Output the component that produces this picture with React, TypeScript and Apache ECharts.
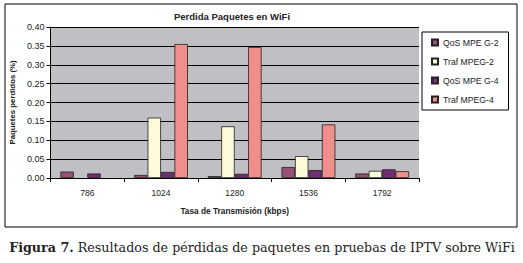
import React, { useEffect, useRef } from "react";
import * as echarts from "echarts";

const categories = ["786", "1024", "1280", "1536", "1792"];
const qosMpeg2 = [0.017, 0.008, 0.005, 0.029, 0.012];
const trafMpeg2 = [null, 0.16, 0.137, 0.058, 0.019];
const qosMpeg4 = [0.012, 0.016, 0.011, 0.021, 0.023];
const trafMpeg4 = [null, 0.355, 0.347, 0.142, 0.018];
const seriesNames = ["QoS MPE G-2", "Traf MPEG-2", "QoS MPE G-4", "Traf MPEG-4"];
const colors = ["#955177", "#FCFAD8", "#722E73", "#F08E8C"];

export default function App() {
  const ref = useRef<HTMLDivElement>(null);
  useEffect(() => {
    if (!ref.current) return;
    const chart = echarts.init(ref.current, undefined, { renderer: "svg" });
    const datasets = [qosMpeg2, trafMpeg2, qosMpeg4, trafMpeg4];
    chart.setOption({
      animation: false,
      backgroundColor: "#ffffff",
      textStyle: { fontFamily: "Liberation Sans" },
      grid: {
        left: 44,
        right: 104,
        top: 27,
        bottom: 85,
        show: true,
        backgroundColor: "#C0C0C4",
        borderWidth: 0,
      },
      legend: {
        orient: "vertical",
        left: 422,
        top: 32,
        width: 87,
        backgroundColor: "#ffffff",
        borderColor: "#000000",
        borderWidth: 1,
        padding: [6, 10, 6, 9],
        itemGap: 10,
        itemWidth: 6,
        itemHeight: 6,
        icon: "rect",
        textStyle: { fontSize: 8.7, color: "#222", fontFamily: "Liberation Sans" },
        data: seriesNames,
      },
      xAxis: {
        type: "category",
        data: categories,
        axisLine: { lineStyle: { color: "#000", width: 1 } },
        axisTick: { show: true, length: 4, lineStyle: { color: "#000" } },
        axisLabel: { fontSize: 8.5, color: "#222", margin: 10 },
        name: "Tasa de Transmisión (kbps)",
        nameLocation: "middle",
        nameGap: 29,
        nameTextStyle: { fontSize: 8.3, fontWeight: "bold", color: "#222" },
      },
      yAxis: {
        type: "value",
        min: 0,
        max: 0.4,
        interval: 0.05,
        axisLine: { show: true, lineStyle: { color: "#000", width: 1 } },
        axisTick: { show: true, length: 4, lineStyle: { color: "#000" } },
        axisLabel: {
          fontSize: 9,
          color: "#222",
          margin: 6,
          formatter: (v: number) => v.toFixed(2),
        },
        splitLine: { show: true, lineStyle: { color: "#000", width: 1 } },
        name: "Paquetes perdidos (%)",
        nameLocation: "middle",
        nameGap: 30,
        nameTextStyle: { fontSize: 7.8, fontWeight: "bold", color: "#222" },
      },
      series: datasets.map((d, i) => ({
        name: seriesNames[i],
        type: "bar",
        data: d,
        barGap: "0%",
        barCategoryGap: "27%",
        itemStyle: { color: colors[i], borderColor: "#222", borderWidth: 0.8 },
      })),
      graphic: [
        {
          type: "rect",
          shape: { x: 5, y: 4, width: 512, height: 223 },
          style: { fill: "none", stroke: "#000", lineWidth: 1 },
          z: 10,
        },
        {
          type: "text",
          x: 232,
          y: 16,
          style: {
            text: "Perdida Paquetes en WiFi",
            font: "bold 9.5px Liberation Sans",
            fill: "#222",
            textAlign: "center",
            textVerticalAlign: "middle",
          },
        },
        {
          type: "text",
          x: 262,
          y: 247,
          style: {
            text: "{b|Figura 7.} Resultados de pérdidas de paquetes en pruebas de IPTV sobre WiFi",
            textAlign: "center",
            textVerticalAlign: "middle",
            fill: "#222",
            font: "12.7px DejaVu Serif",
            rich: {
              b: { fontWeight: "bold", fontSize: 12.7, fontFamily: "DejaVu Serif", fill: "#222" },
            },
          },
        },
      ],
    });
    return () => chart.dispose();
  }, []);
  return (
    <div
      ref={ref}
      style={{ position: "fixed", left: 0, top: 0, width: 523, height: 263, background: "#fff" }}
    />
  );
}
